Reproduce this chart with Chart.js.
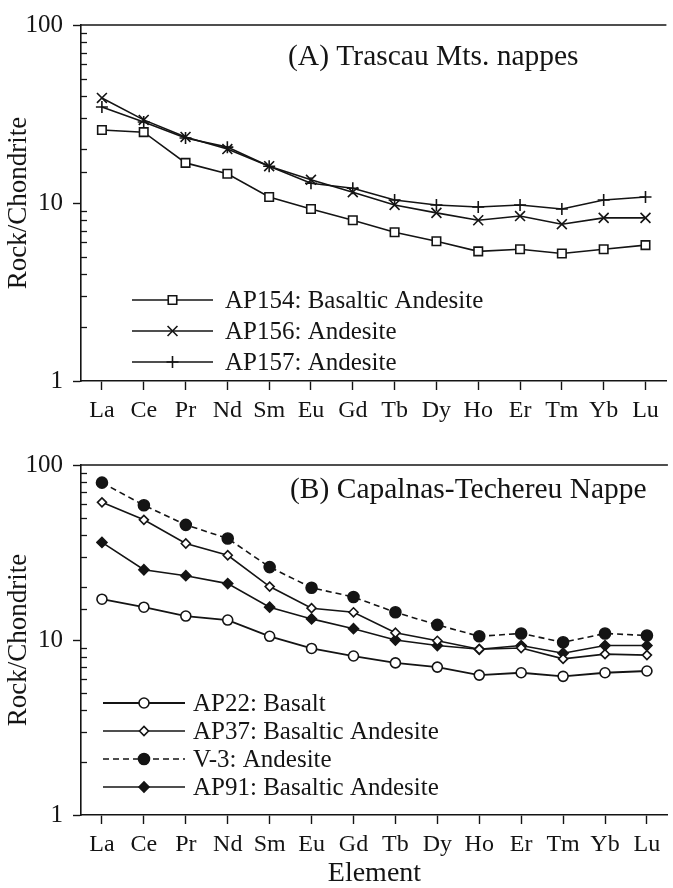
<!DOCTYPE html>
<html>
<head>
<meta charset="utf-8">
<script src="https://cdn.jsdelivr.net/npm/chart.js@4.4.1/dist/chart.umd.min.js"></script>
<style>
  html, body { margin: 0; padding: 0; background: #fff; overflow: hidden; }
  #wrap { position: relative; width: 673px; height: 888px; overflow: hidden; }
  canvas { position: absolute; left: 0; }
  #chartA { top: 0; }
  #chartB { top: 440px; }
</style>
</head>
<body>
<div id="wrap">
  <canvas id="chartA" width="675" height="440"></canvas>
  <canvas id="chartB" width="675" height="448"></canvas>
</div>
<script>
const elements = ["La", "Ce", "Pr", "Nd", "Sm", "Eu", "Gd", "Tb", "Dy", "Ho", "Er", "Tm", "Yb", "Lu"];

// (A) Trascau Mts. nappes
const ap154 = [25.7, 25.0, 16.8, 14.6, 10.8, 9.25, 8.0, 6.85, 6.1, 5.35, 5.5, 5.2, 5.5, 5.8];
const ap156 = [38.9, 29.3, 23.5, 20.1, 16.1, 13.5, 11.5, 9.75, 8.8, 8.0, 8.45, 7.6, 8.25, 8.25];
const ap157 = [34.6, 28.5, 23.2, 20.6, 16.1, 12.9, 12.1, 10.4, 9.75, 9.5, 9.75, 9.25, 10.4, 10.8];

// (B) Capalnas-Techereu Nappe
const ap22 = [17.1, 15.4, 13.7, 13.0, 10.5, 8.95, 8.1, 7.4, 7.0, 6.3, 6.5, 6.2, 6.5, 6.65];
const ap37 = [61.2, 48.6, 35.6, 30.5, 20.2, 15.2, 14.4, 11.0, 9.9, 8.85, 9.0, 7.8, 8.3, 8.2];
const v3 = [79.3, 58.9, 45.5, 38.0, 26.1, 19.9, 17.6, 14.4, 12.2, 10.5, 10.9, 9.7, 10.9, 10.6];
const ap91 = [36.1, 25.2, 23.3, 21.0, 15.4, 13.2, 11.6, 10.0, 9.3, 8.85, 9.3, 8.4, 9.3, 9.3];

const yLabels = [1, 10, 100];

const FONT = "'Liberation Serif', 'Times New Roman', serif";
const INK = "#141414";

Chart.defaults.font.family = FONT;
Chart.defaults.color = INK;

function serie(label, data, style, radius, fill, dash, bw) {
  return {
    label: label,
    data: data,
    borderColor: INK,
    borderWidth: bw || 1.6,
    borderDash: dash || [],
    pointStyle: style,
    pointRadius: radius,
    pointHoverRadius: radius,
    pointBackgroundColor: fill,
    pointBorderColor: INK,
    pointBorderWidth: 1.6,
    tension: 0,
    fill: false,
  };
}

// frame, minor ticks, panel title and legend
const panelPlugin = {
  id: "panel",
  afterDraw(chart, args, opts) {
    const c = chart.ctx;
    const area = chart.chartArea;
    const y = chart.scales.y;
    c.save();
    c.strokeStyle = INK;
    c.lineWidth = 1.6;
    c.beginPath();
    c.moveTo(area.left, area.top);
    c.lineTo(area.right, area.top);
    c.stroke();

    // minor ticks point inward
    c.lineWidth = 1.3;
    y.ticks.forEach((t) => {
      if (yLabels.includes(t.value)) return;
      const py = Math.round(y.getPixelForValue(t.value)) + 0.5;
      c.beginPath();
      c.moveTo(area.left, py);
      c.lineTo(area.left + 6, py);
      c.stroke();
    });

    c.fillStyle = INK;
    c.textBaseline = "middle";
    c.textAlign = "left";
    c.font = "29.5px " + FONT;
    c.fillText(opts.title, opts.titleX, opts.titleY);

    c.font = "25px " + FONT;
    chart.data.datasets.forEach((ds, i) => {
      const ly = opts.legendY + i * opts.legendGap;
      c.strokeStyle = INK;
      c.lineWidth = ds.borderWidth;
      c.setLineDash(ds.borderDash);
      c.beginPath();
      c.moveTo(opts.lineX0, ly);
      c.lineTo(opts.lineX1, ly);
      c.stroke();
      c.setLineDash([]);
      c.lineWidth = ds.pointBorderWidth;
      c.fillStyle = ds.pointBackgroundColor;
      Chart.helpers.drawPoint(c, {
        pointStyle: ds.pointStyle,
        radius: ds.pointRadius,
        borderWidth: ds.pointBorderWidth,
        rotation: 0,
      }, (opts.lineX0 + opts.lineX1) / 2, ly);
      c.fillStyle = INK;
      c.fillText(ds.label, opts.textX, ly + 1);
    });
    c.restore();
  },
};

function makeChart(id, datasets, panel, xTitle, xHeight, padTop) {
  return new Chart(id, {
    type: "line",
    data: { labels: elements, datasets: datasets },
    plugins: [panelPlugin],
    options: {
      responsive: false,
      animation: false,
      devicePixelRatio: 1,
      layout: { padding: { top: padTop, bottom: 0, left: 0, right: 0 } },
      plugins: {
        legend: { display: false },
        tooltip: { enabled: false },
        panel: panel,
      },
      scales: {
        x: {
          type: "category",
          offset: true,
          afterFit: (s) => { s.height = xHeight; },
          border: { display: true, color: INK, width: 1.6 },
          grid: {
            offset: false,
            drawOnChartArea: false,
            drawTicks: true,
            tickLength: 9,
            tickWidth: 1.4,
            tickColor: INK,
          },
          ticks: {
            autoSkip: false,
            maxRotation: 0,
            padding: 6,
            color: INK,
            font: { family: FONT, size: 24 },
          },
          title: {
            display: !!xTitle,
            text: xTitle,
            color: INK,
            font: { family: FONT, size: 28, lineHeight: 1 },
            padding: { top: 0, bottom: 0 },
          },
        },
        y: {
          type: "logarithmic",
          min: 1,
          max: 100,
          afterFit: (s) => { s.width = 81; },
          border: { display: true, color: INK, width: 1.6 },
          grid: {
            drawOnChartArea: false,
            tickLength: 8,
            tickWidth: 1.4,
            tickColor: (ctx) => (ctx.tick && yLabels.includes(ctx.tick.value) ? INK : "rgba(0,0,0,0)"),
          },
          ticks: {
            autoSkip: false,
            padding: 10,
            color: INK,
            font: { family: FONT, size: 25 },
            callback: (v) => (yLabels.includes(v) ? String(v) : ""),
          },
          title: {
            display: true,
            text: "Rock/Chondrite",
            color: INK,
            font: { family: FONT, size: 27, lineHeight: 1 },
            padding: { top: 5, bottom: 0 },
          },
        },
      },
    },
  });
}

makeChart("chartA", [
  serie("AP154: Basaltic Andesite", ap154, "rect", 6, "#fff"),
  serie("AP156: Andesite", ap156, "crossRot", 7, INK),
  serie("AP157: Andesite", ap157, "cross", 6, INK),
], {
  title: "(A) Trascau Mts. nappes", titleX: 288, titleY: 57,
  legendY: 300, legendGap: 31, lineX0: 132, lineX1: 213, textX: 225,
}, "", 59, 25);

makeChart("chartB", [
  serie("AP22: Basalt", ap22, "circle", 5, "#fff", [], 1.8),
  serie("AP37: Basaltic Andesite", ap37, "rectRot", 4.5, "#fff"),
  serie("V-3: Andesite", v3, "circle", 5.5, INK, [6, 4]),
  serie("AP91: Basaltic Andesite", ap91, "rectRot", 5, INK),
], {
  title: "(B) Capalnas-Techereu Nappe", titleX: 290, titleY: 50,
  legendY: 263, legendGap: 28, lineX0: 103, lineX1: 185, textX: 193,
}, "Element", 73, 18);
</script>
</body>
</html>
